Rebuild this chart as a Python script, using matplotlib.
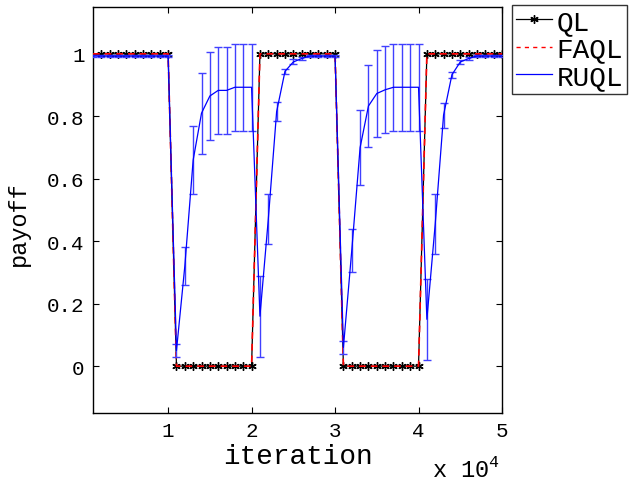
import numpy as np
import matplotlib
matplotlib.use("Agg")
import matplotlib.pyplot as plt
from matplotlib.lines import Line2D

# iterations (x axis, shown as x 10^4)
iteration = [1000, 2000, 3000, 4000, 5000, 6000, 7000, 8000, 9000, 10000,
             11000, 12000, 13000, 14000, 15000, 16000, 17000, 18000, 19000, 20000,
             21000, 22000, 23000, 24000, 25000, 26000, 27000, 28000, 29000, 30000,
             31000, 32000, 33000, 34000, 35000, 36000, 37000, 38000, 39000, 40000,
             41000, 42000, 43000, 44000, 45000, 46000, 47000, 48000, 49000, 50000]

ql = [1, 1, 1, 1, 1, 1, 1, 1, 1, 1,
      0, 0, 0, 0, 0, 0, 0, 0, 0, 0,
      1, 1, 1, 1, 1, 1, 1, 1, 1, 1,
      0, 0, 0, 0, 0, 0, 0, 0, 0, 0,
      1, 1, 1, 1, 1, 1, 1, 1, 1, 1]

faql = [1, 1, 1, 1, 1, 1, 1, 1, 1, 1,
        0, 0, 0, 0, 0, 0, 0, 0, 0, 0,
        1, 1, 1, 1, 1, 1, 1, 1, 1, 1,
        0, 0, 0, 0, 0, 0, 0, 0, 0, 0,
        1, 1, 1, 1, 1, 1, 1, 1, 1, 1]

ruql = [0.993, 0.993, 0.993, 0.993, 0.993, 0.993, 0.993, 0.993, 0.993, 0.993,
        0.05, 0.32, 0.66, 0.81, 0.865, 0.883, 0.883, 0.893, 0.893, 0.893,
        0.16, 0.47, 0.815, 0.944, 0.974, 0.985, 0.993, 0.993, 0.993, 0.993,
        0.06, 0.37, 0.70, 0.833, 0.873, 0.885, 0.893, 0.893, 0.893, 0.893,
        0.15, 0.455, 0.804, 0.933, 0.974, 0.985, 0.993, 0.993, 0.993, 0.993]

ruql_err = [0.002, 0.002, 0.002, 0.002, 0.002, 0.002, 0.002, 0.002, 0.002, 0.002,
            0.02, 0.06, 0.11, 0.13, 0.14, 0.14, 0.14, 0.14, 0.14, 0.14,
            0.13, 0.08, 0.03, 0.008, 0.008, 0.005, 0.002, 0.002, 0.002, 0.002,
            0.02, 0.07, 0.12, 0.13, 0.14, 0.14, 0.14, 0.14, 0.14, 0.14,
            0.13, 0.095, 0.04, 0.01, 0.007, 0.005, 0.002, 0.002, 0.002, 0.002]

xticks = [10000, 20000, 30000, 40000, 50000]
xticklabels = ["1", "2", "3", "4", "5"]
yticks = [0, 0.2, 0.4, 0.6, 0.8, 1]
yticklabels = ["0", "0.2", "0.4", "0.6", "0.8", "1"]

plt.rcParams['font.family'] = ['Liberation Mono', 'DejaVu Sans Mono']
plt.rcParams['mathtext.fontset'] = 'custom'
plt.rcParams['mathtext.rm'] = 'Liberation Mono'

fig = plt.figure(figsize=(6.3, 4.81), dpi=100)
ax = fig.add_axes([93/630, 1-414/481, (502-93)/630, (414-8)/481])

asterisk = (6, 2, 0)
ax.plot(iteration, ql, color='black', linewidth=0.9, marker=asterisk, markersize=6,
        markeredgewidth=1.0, markevery=list(range(1, 50)), zorder=2)
ax.plot(iteration, faql, color='red', linestyle='--', dashes=(4, 3), linewidth=1.2,
        zorder=3)
ax.errorbar(iteration, ruql, yerr=ruql_err, color='blue', linewidth=0.9,
            ecolor=(0.25, 0.25, 1.0), elinewidth=1.0, capsize=3, capthick=1.0,
            zorder=4)

ax.set_xlim(1000, 50000)
ax.set_ylim(-0.15, 1.15)
ax.set_xticks(xticks)
ax.set_xticklabels(xticklabels)
ax.set_yticks(yticks)
ax.set_yticklabels(yticklabels)
ax.tick_params(direction='in', top=True, right=True, length=4, width=0.8,
               labelsize=15, pad=6)
for s in ax.spines.values():
    s.set_linewidth(1.0)

ax.set_xlabel("iteration", fontsize=20, labelpad=2)
ax.set_ylabel("payoff", fontsize=17, labelpad=4)
ax.yaxis.set_label_coords(-0.155, 1 - (224 - 8) / 406)
fig.text(500/630, 1-470/481, "x 10$^{4}$", fontsize=17, ha='right', va='center')

handles = [Line2D([], [], color='black', linewidth=0.9, marker=asterisk, markersize=6,
                  markeredgewidth=1.0, markevery=[1]),
           Line2D([], [], color='red', linestyle='--', dashes=(3, 3), linewidth=1.0),
           Line2D([], [], color='blue', linewidth=0.9)]
handles[0].set_data([0, 0.5, 1], [0, 0, 0])
leg = fig.legend(handles, ['QL', 'FAQL', 'RUQL'], loc='upper left',
                 bbox_to_anchor=(512/630, 1-6/481),
                 fontsize=20, frameon=True, fancybox=False, edgecolor='black',
                 handlelength=1.3, handletextpad=0.15, labelspacing=0.05,
                 borderpad=0.15, borderaxespad=0)
leg.get_frame().set_linewidth(1.0)

fig.savefig("out.png", dpi=100)
